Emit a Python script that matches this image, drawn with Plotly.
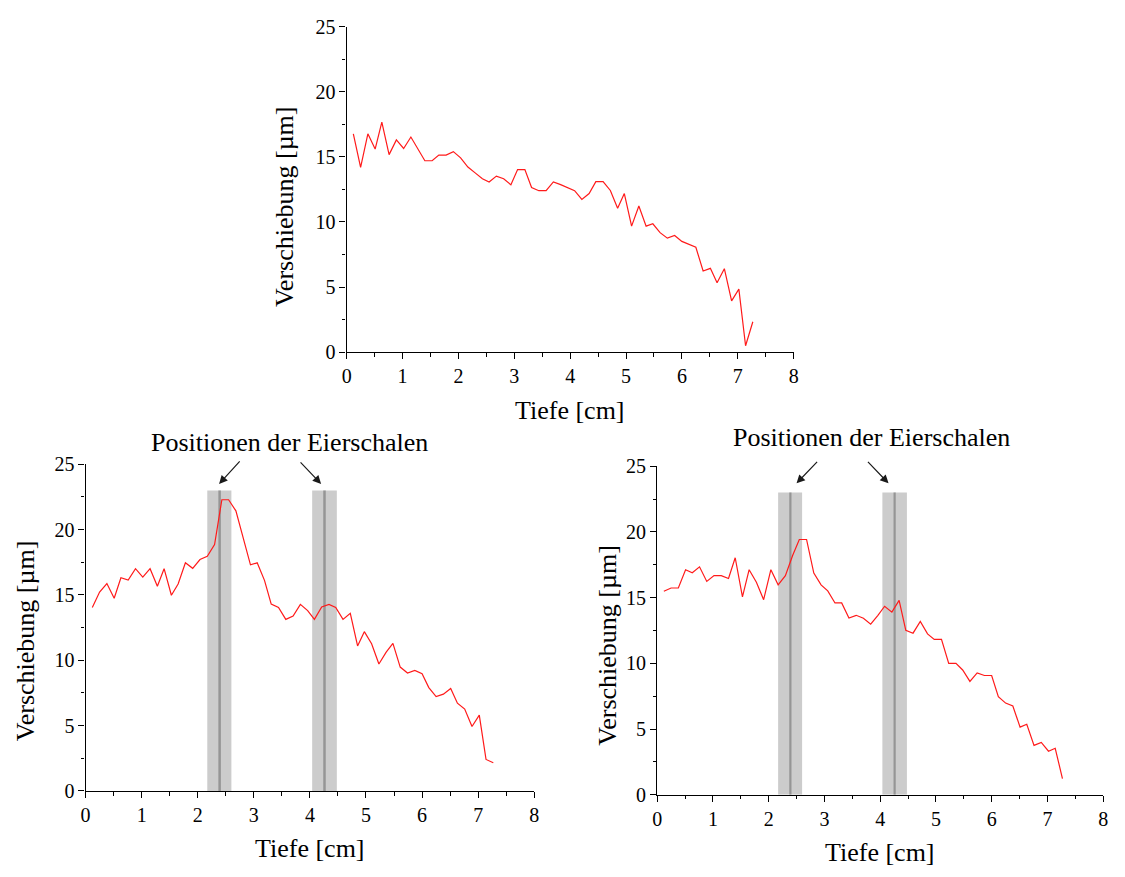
import plotly.graph_objects as go

# ---------------- data ----------------
depth_cm = [0.12, 0.25, 0.38, 0.51, 0.63, 0.76, 0.89, 1.02, 1.15, 1.28, 1.40, 1.53, 1.65, 1.78,
            1.91, 2.04, 2.17, 2.30, 2.43, 2.55, 2.68, 2.81, 2.94, 3.06, 3.19, 3.31, 3.44, 3.57,
            3.70, 3.83, 3.96, 4.08, 4.21, 4.34, 4.46, 4.59, 4.72, 4.85, 4.97, 5.10, 5.23, 5.36,
            5.48, 5.61, 5.74, 5.87, 6.00, 6.12, 6.25, 6.38, 6.51, 6.63, 6.76, 6.89, 7.02, 7.14, 7.27]

shift_top = [16.77, 14.2, 16.77, 15.6, 17.66, 15.17, 16.3, 15.64, 16.52, 15.6, 14.7, 14.7, 15.14, 15.14,
             15.4, 14.92, 14.22, 13.77, 13.32, 13.07, 13.52, 13.32, 12.85, 14.02, 14.02, 12.65, 12.4, 12.4,
             13.07, 12.87, 12.65, 12.4, 11.73, 12.18, 13.1, 13.1, 12.42, 11.05, 12.18, 9.68, 11.23, 9.68,
             9.86, 9.18, 8.76, 8.96, 8.51, 8.28, 8.06, 6.24, 6.44, 5.34, 6.41, 3.94, 4.84, 0.5, 2.34]

shift_left = [14.05, 15.22, 15.87, 14.75, 16.32, 16.14, 17.01, 16.37, 17.01, 15.67, 17.01, 14.98, 15.84, 17.46,
              17.04, 17.71, 17.96, 18.86, 22.29, 22.29, 21.44, 19.4, 17.31, 17.46, 16.12, 14.3, 14.05, 13.13,
              13.38, 14.28, 13.8, 13.13, 14.08, 14.28, 14.05, 13.13, 13.6, 11.1, 12.19, 11.27, 9.72, 10.62,
              11.29, 9.48, 9.03, 9.23, 8.98, 7.91, 7.22, 7.41, 7.84, 6.72, 6.27, 4.93, 5.8, 2.41, 2.16]

shift_right = [15.49, 15.74, 15.74, 17.13, 16.9, 17.35, 16.24, 16.68, 16.68, 16.46, 18.04, 15.07, 17.13, 16.18,
               14.85, 17.13, 15.98, 16.68, 18.21, 19.43, 19.43, 16.87, 15.98, 15.52, 14.6, 14.6, 13.46, 13.66,
               13.44, 12.99, 13.66, 14.35, 13.9, 14.8, 12.52, 12.3, 13.19, 12.25, 11.83, 11.83, 10.0, 10.0,
               9.5, 8.63, 9.28, 9.08, 9.08, 7.47, 6.98, 6.76, 5.15, 5.37, 3.76, 3.99, 3.32, 3.54, 1.24]

eggshell_center = [2.39, 4.26]
eggshell_start = [2.17, 4.04]
eggshell_end = [2.60, 4.48]
band_top = 23.0

x_title = "Tiefe [cm]"
y_title = "Verschiebung [µm]"
note = "Positionen der Eierschalen"

# ---------------- figure ----------------
W, H = 1125, 877
FONT = "Liberation Serif"

fig = go.Figure()
series = [(shift_top, "x", "y"), (shift_left, "x2", "y2"), (shift_right, "x3", "y3")]
for vals, xa, ya in series:
    fig.add_trace(go.Scatter(x=depth_cm, y=vals, mode="lines", xaxis=xa, yaxis=ya,
                             line=dict(color="#ff1a1a", width=1.2), showlegend=False,
                             hoverinfo="skip"))

def xax(domain, anchor):
    return dict(domain=domain, anchor=anchor, range=[0, 8], tick0=0, dtick=1,
                ticks="outside", ticklen=6, tickwidth=1.2, tickcolor="black",
                showline=True, linecolor="black", linewidth=1.3,
                showgrid=False, zeroline=False,
                minor=dict(dtick=0.5, ticks="outside", ticklen=3.5, tickwidth=1.2,
                           tickcolor="black", showgrid=False),
                tickfont=dict(family=FONT, size=20, color="black"))

def yax(domain, anchor):
    return dict(domain=domain, anchor=anchor, range=[0, 25], tick0=0, dtick=5,
                ticks="outside", ticklen=6, tickwidth=1.2, tickcolor="black",
                showline=True, linecolor="black", linewidth=1.3,
                showgrid=False, zeroline=False,
                minor=dict(dtick=2.5, ticks="outside", ticklen=3.5, tickwidth=1.2,
                           tickcolor="black", showgrid=False),
                tickfont=dict(family=FONT, size=20, color="black"))

def px_x(a, b):
    return [a / W, b / W]

def px_y(top, bottom):
    return [1 - bottom / H, 1 - top / H]

fig.update_layout(
    width=W, height=H, autosize=False,
    margin=dict(l=0, r=0, t=0, b=0),
    paper_bgcolor="white", plot_bgcolor="white",
    font=dict(family=FONT, color="black"),
    xaxis=xax(px_x(344.7, 795.7), "y"),
    yaxis=yax(px_y(16, 350), "x"),
    xaxis2=xax(px_x(81.3, 534), "y2"),
    yaxis2=yax(px_y(465, 800), "x2"),
    xaxis3=xax(px_x(658, 1108), "y3"),
    yaxis3=yax(px_y(467, 804), "x3"),
)

shapes = []
for xa, ya, lw in [("x2", "y2", 2.5), ("x3", "y3", 2.2)]:
    for s, e, c in zip(eggshell_start, eggshell_end, eggshell_center):
        shapes.append(dict(type="rect", xref=xa, yref=ya, x0=s, x1=e, y0=0, y1=band_top,
                           fillcolor="#cccccc", line=dict(width=0), layer="below"))
        shapes.append(dict(type="line", xref=xa, yref=ya, x0=c, x1=c, y0=0, y1=band_top,
                           line=dict(color="#959595", width=lw), layer="below"))
fig.update_layout(shapes=shapes)

ann = []
# axis titles
for xa, ya, xs, ys, yoff in [("x", "y", -62, -58, -17), ("x2", "y2", -60, -58, -13),
                             ("x3", "y3", -50, -58, -15)]:
    ann.append(dict(text=x_title, xref=f"{xa} domain", yref=f"{ya} domain", x=0.5, y=0,
                    yshift=ys, xanchor="center", yanchor="middle", showarrow=False,
                    font=dict(family=FONT, size=26, color="black")))
    ann.append(dict(text=y_title, xref=f"{xa} domain", yref=f"{ya} domain", x=0, y=0.5,
                    xshift=xs, yshift=yoff, xanchor="center", yanchor="middle", textangle=-90,
                    showarrow=False, font=dict(family=FONT, size=26, color="black")))

# notes (paper coordinates) + arrows (pointing at the eggshell bands)
for nx, ny in [(287, 443), (874, 437)]:
    ann.append(dict(text=note, xref="paper", yref="paper", x=nx / W, y=1 - ny / H,
                    showarrow=False, xanchor="center", yanchor="middle",
                    font=dict(family=FONT, size=26, color="black")))

for xa, ya, tips in [("x2", "y2", [(2.38, 23.5, 22, -24), (4.20, 23.5, -22, -23)]),
                     ("x3", "y3", [(2.50, 23.7, 22, -23), (4.15, 23.7, -22, -23)])]:
    for x, y, dx, dy in tips:
        ann.append(dict(text="", xref=xa, yref=ya, x=x, y=y, ax=dx, ay=dy,
                        axref="pixel", ayref="pixel", showarrow=True,
                        arrowhead=2, arrowsize=1.4, arrowwidth=1.2, arrowcolor="#1a1a1a"))
fig.update_layout(annotations=ann)

fig.write_html("out.html")
